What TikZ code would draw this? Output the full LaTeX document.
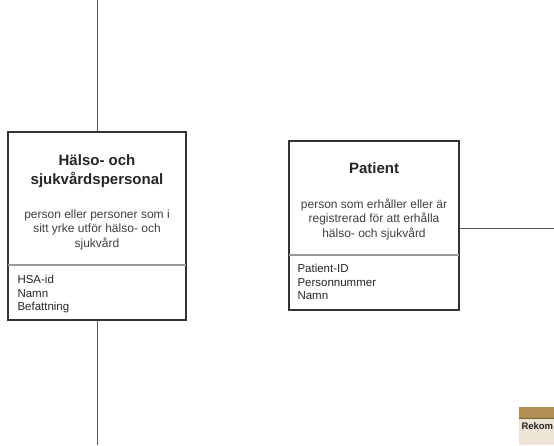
\documentclass[tikz,border=0pt]{standalone}
\usepackage{fontspec}
\setmainfont{Liberation Sans}
\usetikzlibrary{positioning, calc}
\definecolor{cline}{HTML}{333333}
\definecolor{cgrey}{HTML}{555555}
\definecolor{cdiv}{HTML}{999999}
\definecolor{cband}{HTML}{B08E55}
\definecolor{cbeige}{HTML}{EFE5D6}
\tikzset{
  every picture/.style={line width=1pt},
  entity/.style={draw=cline, line width=2pt, fill=white, inner sep=0pt},
  link/.style={draw=cgrey, line width=1pt},
  divider/.style={draw=cdiv, line width=1.2pt},
  title/.style={font=\fontsize{15}{19}\selectfont\bfseries, align=center, text=black!85},
  descr/.style={font=\fontsize{12}{14.5}\selectfont, align=center, text=black!75},
  attrs/.style={font=\fontsize{11.5}{13.5}\selectfont, align=left, anchor=north west, inner sep=0pt, text=black!85},
}

\begin{document}
\begin{tikzpicture}[x=1pt, y=-1pt]
  \useasboundingbox (0,0) rectangle (554,445);
  \clip (0,0) rectangle (554,445);
  % connectors ends
  \coordinate (top) at (97,0);
  \coordinate (bottom) at (97,445);
  \coordinate (right) at (554,228);
  % (a) Hälso- och sjukvårdspersonal
  \node[entity, minimum width=178pt, minimum height=188pt] (hsp) at (97,226) {};
  \draw[link] (top) -- (hsp.north);
  \draw[link] (hsp.south) -- (bottom);
  \draw[divider] ($(hsp.west)+(1,39)$) coordinate (hspd) -- ($(hsp.east)+(-1,39)$);
  \node[title] (hsptitle) at (97,171) {Hälso- och\\sjukvårdspersonal};
  \node[descr] (hspdescr) at (97,229.5) {person eller personer som i\\sitt yrke utför hälso- och\\sjukvård};
  \node[attrs] (hspattr) at (17,275) {HSA-id\\Namn\\Befattning};
  % (b) Patient
  \node[entity, minimum width=170pt, minimum height=169pt] (pat) at (374,225.5) {};
  \draw[link] (pat.east |- right) -- (right);
  \draw[divider] ($(pat.west)+(1,29.5)$) coordinate (patd) -- ($(pat.east)+(-1,29.5)$);
  \node[title] (pattitle) at (374,168) {Patient};
  \node[descr] (patdescr) at (374,219) {person som erhåller eller är\\registrerad för att erhålla\\hälso- och sjukvård};
  \node[attrs] (patattr) at (297,264) {Patient-ID\\Personnummer\\Namn};
  % cut-off box at the corner
  \fill[cbeige] (519,407) rectangle (560,445);
  \fill[cband] (519,407) rectangle (560,418);
  \draw[draw=cband!70!black, line width=0.6pt] (519,418) -- (560,418);
  \node[font=\fontsize{9.5}{10}\selectfont\bfseries, anchor=west, inner sep=0pt, text=black!85] (rekom) at (521,426.5) {Rekom};
\end{tikzpicture}
\end{document}
